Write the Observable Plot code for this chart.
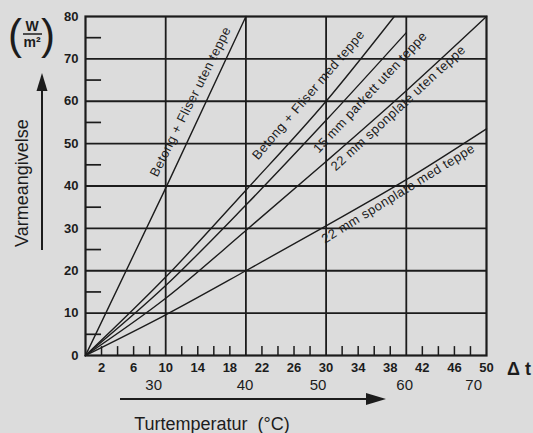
<!DOCTYPE html>
<html>
<head>
<meta charset="utf-8">
<script src="https://cdn.jsdelivr.net/npm/d3@7"></script>
<script src="https://cdn.jsdelivr.net/npm/@observablehq/plot@0.6"></script>
<style>
  html, body { margin: 0; padding: 0; background: #dcdcdc; }
  #chart svg { display: block; }
</style>
</head>
<body>
<div id="chart"></div>
<script>
// ---- data ----
const seriesNames = [
  "Betong + Fliser uten teppe",
  "Betong + Fliser med teppe",
  "15 mm parkett uten teppe",
  "22 mm sponplate uten teppe",
  "22 mm sponplate med teppe"
];
const dt1 = [0, 10, 20];            const q1 = [0, 39.5, 80];
const dt2 = [0, 10, 20, 30, 38.5];  const q2 = [0, 18.5, 39, 60, 80];
const dt3 = [0, 10, 20, 30, 40];    const q3 = [0, 16.5, 35.5, 55.5, 76.2];
const dt4 = [0, 10, 20, 30, 40, 50]; const q4 = [0, 13.5, 29.5, 45.8, 62.5, 80];
const dt5 = [0, 10, 20, 30, 40, 50]; const q5 = [0, 9.6, 20, 30.6, 41.5, 53.5];

// label anchor (data coords) and angle along each curve
const labelDt = [13.1, 27.8, 35.5, 39.0, 39.0];
const labelQ  = [59.9, 61.5, 62.1, 58.4, 38.2];
const labelAngle = [-63.5, -49.5, -47, -42.7, -31.6];

const yTicks = [0, 10, 20, 30, 40, 50, 60, 70, 80];
const yMinor = [5, 15, 25, 35, 45, 55, 65, 75];
const xTickLabels = [2, 6, 10, 14, 18, 22, 26, 30, 34, 38, 42, 46, 50];
const xMinor = [2, 4, 6, 8, 12, 14, 16, 18, 22, 24, 26, 28, 32, 34, 36, 38, 42, 44, 46, 48];
const xGrid = [10, 20, 30, 40];
const yGrid = [10, 20, 30, 40, 50, 60, 70];
const flowTempLabels = [30, 40, 50, 60, 70];
const flowTempDt = [8.5, 19.9, 29, 39.8, 48.4];

// ---- build tables ----
const dts = [dt1, dt2, dt3, dt4, dt5];
const qs = [q1, q2, q3, q4, q5];
const curves = dts.flatMap((d, i) => d.map((v, j) => ({series: seriesNames[i], dt: v, q: qs[i][j]})));
const labels = seriesNames.map((s, i) => ({text: s, dt: labelDt[i], q: labelQ[i], a: labelAngle[i]}));
const flowTemps = flowTempLabels.map((t, i) => ({t, dt: flowTempDt[i]}));

const ink = "#1c1c1c";
const font = "'Liberation Sans', Arial, Helvetica, sans-serif";

const chart = Plot.plot({
  width: 533,
  height: 433,
  marginLeft: 85,
  marginRight: 47,
  marginTop: 16,
  marginBottom: 78,
  style: {background: "#dcdcdc", fontFamily: font, overflow: "visible", color: ink},
  x: {domain: [0, 50]},
  y: {domain: [0, 80]},
  marks: [
    Plot.ruleX(xGrid, {stroke: ink, strokeWidth: 1.8}),
    Plot.ruleY(yGrid, {stroke: ink, strokeWidth: 1.8}),
    Plot.ruleY(yMinor, {x1: 0, x2: 2, stroke: ink, strokeWidth: 1.7}),
    Plot.ruleX(xMinor, {y1: 0, y2: 2.1, stroke: ink, strokeWidth: 1.5}),
    Plot.frame({stroke: ink, strokeWidth: 2.2}),
    Plot.line(curves, {x: "dt", y: "q", z: "series", stroke: ink, strokeWidth: 1.4, curve: "monotone-x"}),
    Plot.text(labels, {x: "dt", y: "q", text: "text", rotate: "a", fontSize: 13, fill: ink, textAnchor: "middle"}),
    Plot.axisY({ticks: yTicks, tickSize: 0, tickPadding: 7, fontSize: 13, fontWeight: "bold", label: null, fill: ink}),
    Plot.axisX({ticks: xTickLabels, tickSize: 0, tickPadding: 7, fontSize: 13, fontWeight: "bold", label: null, fill: ink}),
    Plot.text(flowTemps, {x: "dt", text: "t", frameAnchor: "bottom", dy: 34, fontSize: 15, fill: ink})
  ]
});

document.getElementById("chart").appendChild(chart);
d3.select(chart).selectAll("text").filter(function() {
  return seriesNames.includes(this.textContent);
}).attr("letter-spacing", "0.5px");

// ---- decorations (arrows, axis titles) ----
const svg = d3.select(chart);
const g = svg.append("g").attr("fill", ink).attr("font-family", font).attr("text-anchor", "start");
// vertical arrow
g.append("line").attr("x1", 42).attr("x2", 42).attr("y1", 250).attr("y2", 86).attr("stroke", ink).attr("stroke-width", 2);
g.append("path").attr("d", "M42,73 L36.5,91 L47.5,91 Z");
// horizontal arrow
g.append("line").attr("x1", 120).attr("x2", 368).attr("y1", 399).attr("y2", 399).attr("stroke", ink).attr("stroke-width", 2);
g.append("path").attr("d", "M386,399 L366,393 L366,405 Z");
// titles
g.append("text").attr("transform", "translate(28,247) rotate(-90)").attr("text-anchor", "start")
  .attr("font-size", 18).text("Varmeangivelse");
g.append("text").attr("x", 212).attr("y", 430).attr("text-anchor", "middle")
  .attr("font-size", 18).text("Turtemperatur  (°C)");
g.append("text").attr("x", 507).attr("y", 375).attr("text-anchor", "start").attr("font-size", 18).attr("font-weight", "bold").text("Δ t");
// unit (W/m²)
g.append("text").attr("x", 32).attr("y", 31).attr("text-anchor", "middle").attr("font-size", 14).attr("font-weight", "bold").text("W");
g.append("line").attr("x1", 23).attr("x2", 42).attr("y1", 34).attr("y2", 34).attr("stroke", ink).attr("stroke-width", 1.5);
g.append("text").attr("x", 32).attr("y", 47).attr("text-anchor", "middle").attr("font-size", 14).attr("font-weight", "bold").text("m²");
g.append("text").attr("x", 15).attr("y", 49).attr("text-anchor", "middle").attr("font-size", 42).attr("font-weight", "300").text("(");
g.append("text").attr("x", 48).attr("y", 49).attr("text-anchor", "middle").attr("font-size", 42).attr("font-weight", "300").text(")");
</script>
</body>
</html>
